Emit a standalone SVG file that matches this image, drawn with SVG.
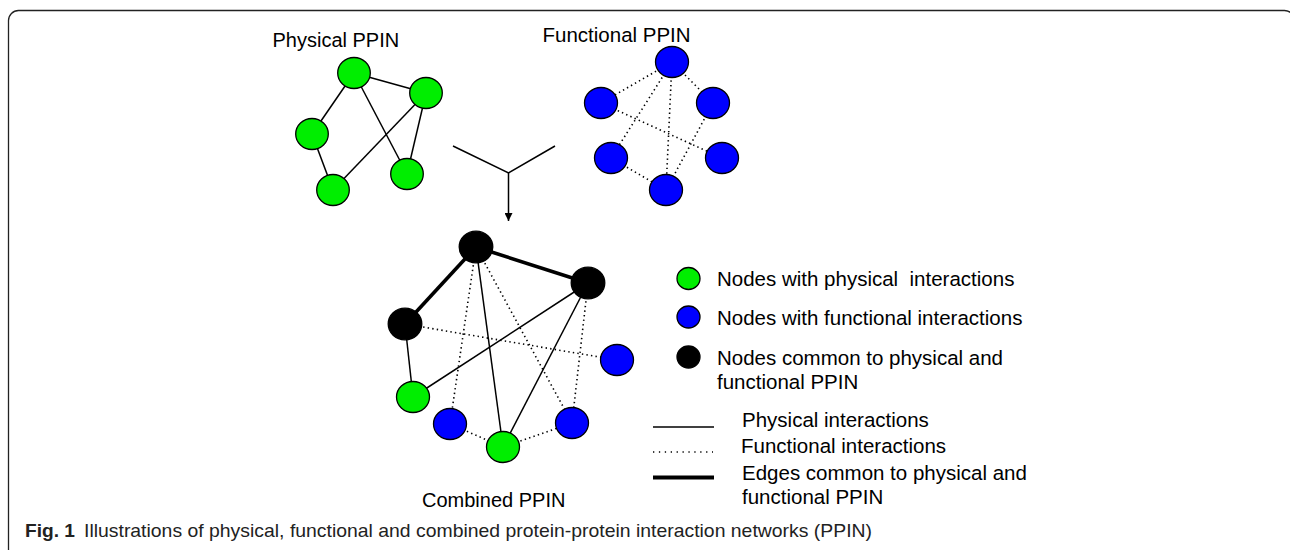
<svg xmlns="http://www.w3.org/2000/svg" width="1290" height="550" viewBox="0 0 1290 550">
  <style>
    .lbl { font-family: "Liberation Sans", Arial, sans-serif; font-size: 20.5px; fill: #000; }
    .g { fill: #00ee00; stroke: #000; stroke-width: 1.3; }
    .b { fill: #0000ff; stroke: #000; stroke-width: 1.3; }
    .k { fill: #000; stroke: #000; stroke-width: 1.3; }
    .phys { stroke: #000; stroke-width: 1.5; fill: none; }
    .func { stroke: #000; stroke-width: 1.6; fill: none; stroke-dasharray: 1.4 3.2; }
    .both { stroke: #000; stroke-width: 3.6; fill: none; }
    .cap { font-family: "Liberation Sans", Arial, sans-serif; font-size: 19px; fill: #222; }
  </style>
  <defs>
    <marker id="arrow" viewBox="0 0 10 10" refX="10" refY="5" markerWidth="8" markerHeight="8" markerUnits="userSpaceOnUse" orient="auto">
      <path d="M0,0 L10,5 L0,10 z" fill="#000"/>
    </marker>
  </defs>

  <rect width="1290" height="550" fill="#fff"/>
  <!-- figure frame -->
  <rect x="8.5" y="10.5" width="1286" height="600" rx="10" ry="10" fill="none" stroke="#222" stroke-width="1.3"/>

  <!-- titles -->
  <text class="lbl" x="272.5" y="47" style="font-size:20px">Physical PPIN</text>
  <text class="lbl" x="542.5" y="42">Functional PPIN</text>
  <text class="lbl" x="422" y="507" style="font-size:20px">Combined PPIN</text>

  <g id="connectors">
    <!-- physical network edges -->
    <line class="phys" x1="354" y1="73" x2="426" y2="93"/>
    <line class="phys" x1="354" y1="73" x2="312" y2="134"/>
    <line class="phys" x1="354" y1="73" x2="407" y2="174"/>
    <line class="phys" x1="312" y1="134" x2="333" y2="190"/>
    <line class="phys" x1="426" y1="93" x2="333" y2="190"/>
    <line class="phys" x1="426" y1="93" x2="407" y2="174"/>

    <!-- functional network edges -->
    <line class="func" x1="672" y1="62" x2="601" y2="103"/>
    <line class="func" x1="672" y1="62" x2="713" y2="103"/>
    <line class="func" x1="672" y1="62" x2="611" y2="158"/>
    <line class="func" x1="672" y1="62" x2="666" y2="190"/>
    <line class="func" x1="601" y1="103" x2="722" y2="158"/>
    <line class="func" x1="713" y1="103" x2="666" y2="190"/>
    <line class="func" x1="611" y1="158" x2="666" y2="190"/>

    <!-- merge arrow -->
    <polyline class="phys" points="453,146 508.5,173 555,146"/>
    <line class="phys" x1="508.5" y1="173" x2="508.5" y2="221" marker-end="url(#arrow)"/>

    <!-- combined network edges -->
    <line class="both" x1="476" y1="247" x2="405" y2="324"/>
    <line class="both" x1="476" y1="247" x2="588" y2="283"/>
    <line class="phys" x1="405" y1="324" x2="413" y2="397"/>
    <line class="phys" x1="588" y1="283" x2="413" y2="397"/>
    <line class="phys" x1="476" y1="247" x2="503" y2="447"/>
    <line class="phys" x1="588" y1="283" x2="503" y2="447"/>
    <line class="func" x1="476" y1="247" x2="450" y2="424"/>
    <line class="func" x1="476" y1="247" x2="572" y2="423"/>
    <line class="func" x1="405" y1="324" x2="617" y2="360"/>
    <line class="func" x1="588" y1="283" x2="572" y2="423"/>
    <line class="func" x1="450" y1="424" x2="503" y2="447"/>
    <line class="func" x1="503" y1="447" x2="572" y2="423"/>
  </g>

  <!-- physical network nodes -->
  <g id="p1"><ellipse class="g" cx="354" cy="73" rx="16.3" ry="15.5"/></g>
  <g id="p2"><ellipse class="g" cx="426" cy="93" rx="16.3" ry="15.5"/></g>
  <g id="p3"><ellipse class="g" cx="312" cy="134" rx="16.3" ry="15.5"/></g>
  <g id="p4"><ellipse class="g" cx="333" cy="190" rx="16.3" ry="15.5"/></g>
  <g id="p5"><ellipse class="g" cx="407" cy="174" rx="16.3" ry="15.5"/></g>

  <!-- functional network nodes -->
  <g id="f1"><ellipse class="b" cx="672" cy="62" rx="16.5" ry="15.5"/></g>
  <g id="f2"><ellipse class="b" cx="601" cy="103" rx="16.5" ry="15.5"/></g>
  <g id="f3"><ellipse class="b" cx="713" cy="103" rx="16.5" ry="15.5"/></g>
  <g id="f4"><ellipse class="b" cx="611" cy="158" rx="16.5" ry="15.5"/></g>
  <g id="f5"><ellipse class="b" cx="722" cy="158" rx="16.5" ry="15.5"/></g>
  <g id="f6"><ellipse class="b" cx="666" cy="190" rx="16.5" ry="15.5"/></g>

  <!-- combined network nodes -->
  <g id="c1"><ellipse class="k" cx="476" cy="247" rx="16.8" ry="15.8"/></g>
  <g id="c2"><ellipse class="k" cx="588" cy="283" rx="16.8" ry="15.8"/></g>
  <g id="c3"><ellipse class="k" cx="405" cy="324" rx="16.8" ry="15.8"/></g>
  <g id="c4"><ellipse class="b" cx="617" cy="360" rx="16.5" ry="15.5"/></g>
  <g id="c5"><ellipse class="g" cx="413" cy="397" rx="16.5" ry="15.5"/></g>
  <g id="c6"><ellipse class="b" cx="450" cy="424" rx="16.5" ry="15.5"/></g>
  <g id="c7"><ellipse class="g" cx="503" cy="447" rx="16.5" ry="15.5"/></g>
  <g id="c8"><ellipse class="b" cx="572" cy="423" rx="16.5" ry="15.5"/></g>

  <!-- legend -->
  <g id="legend">
    <ellipse class="g" cx="688.5" cy="278.5" rx="11.5" ry="11"/>
    <text class="lbl" x="717" y="286" style="white-space:pre">Nodes with physical  interactions</text>
    <ellipse class="b" cx="688.5" cy="317" rx="11.5" ry="11"/>
    <text class="lbl" x="717" y="325">Nodes with functional interactions</text>
    <ellipse class="k" cx="688.5" cy="357" rx="11.5" ry="11"/>
    <text class="lbl" x="717" y="365">Nodes common to physical and</text>
    <text class="lbl" x="717" y="388.5">functional PPIN</text>

    <line class="phys" x1="653" y1="427" x2="714" y2="427"/>
    <text class="lbl" x="742" y="427">Physical interactions</text>
    <line x1="653" y1="452" x2="713" y2="452" stroke="#000" stroke-width="1.4" stroke-dasharray="1.3 4.6"/>
    <text class="lbl" x="741" y="453">Functional interactions</text>
    <line class="both" x1="653" y1="477.5" x2="714" y2="477.5" style="stroke-width:4"/>
    <text class="lbl" x="742" y="480">Edges common to physical and</text>
    <text class="lbl" x="742" y="503.5">functional PPIN</text>
  </g>

  <!-- caption -->
  <text class="cap" x="25" y="536.5" font-weight="bold" textLength="50" lengthAdjust="spacingAndGlyphs">Fig. 1</text>
  <text class="cap" x="84" y="536.5" textLength="788" lengthAdjust="spacingAndGlyphs">Illustrations of physical, functional and combined protein-protein interaction networks (PPIN)</text>
</svg>
